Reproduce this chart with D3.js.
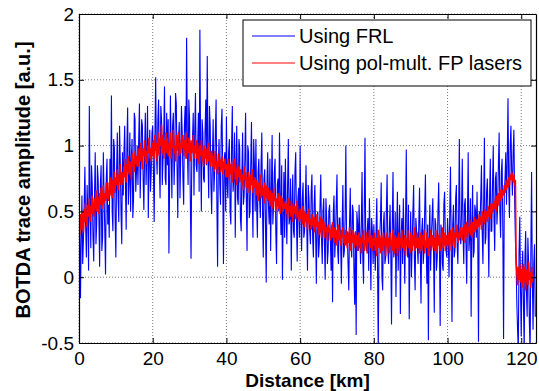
<!DOCTYPE html>
<html>
<head>
<meta charset="utf-8">
<script src="https://cdn.jsdelivr.net/npm/d3@7"></script>
<style>
  body { margin: 0; background: #fff; }
  text { font-family: "Liberation Sans", Arial, Helvetica, sans-serif; }
</style>
</head>
<body>
<svg id="chart" width="539" height="391"></svg>
<script>
// samples every 0.2 km, starting at 0 km
const step = 0.2;

// BOTDA trace using the FRL (blue)
const frl = [
  0.05, 0.35, -0.16, 0.3, 0.62, 0.1, 0.28, 0.55, 0.84, 0.4, 0.15, 0.7, 0.48, 0.05, 1.3, 0.6, 0.22, 0.85, 0.7, 0.3,
  0.12, 0.6, 0.95, 0.25, 0.4, 0.85, 0.74, 0.45, 0.08, 0.7, 0.85, 0.2, 0.3, 0.95, 0.62, 0.35, 0.02, 0.75, 0.9, 0.4,
  0.55, 0.3, 0.9, 0.65, 1.38, 0.5, 0.35, 1.05, 0.98, 0.45, 0.15, 0.8, 1.1, 0.6, 0.42, 1.15, 0.88, 0.5, 0.25, 0.95,
  0.62, 0.95, 1.15, 0.7, 0.36, 1.0, 1.29, 0.55, 0.72, 1.1, 0.5, 0.9, 1.05, 0.45, 0.6, 1.25, 1.2, 0.65, 0.8, 1.0,
  0.7, 1.05, 1.32, 0.6, 0.88, 1.2, 1.15, 0.75, 0.51, 0.95, 1.25, 0.7, 0.95, 1.3, 0.45, 0.85, 1.12, 0.65, 0.8, 1.1,
  1.15, 0.8, 0.42, 1.05, 1.52, 0.95, 0.78, 1.2, 1.35, 0.85, 0.6, 1.3, 1.2, 0.7, 0.9, 1.1, 1.45, 0.75, 0.7, 1.25,
  0.85, 1.2, 0.18, 0.75, 1.38, 1.0, 0.6, 1.15, 1.25, 0.7, 0.95, 1.4, 1.32, 0.85, 0.45, 1.05, 1.18, 0.6, 0.92, 1.3,
  1.1, 0.75, 0.55, 1.15, 1.3, 0.9, 1.82, 1.0, 0.7, 1.35, 1.2, 0.6, 0.14, 0.9, 1.05, 1.25, 0.62, 1.1, 1.4, 0.85,
  0.8, 1.0, 1.25, 0.65, 1.88, 0.95, 0.5, 1.2, 1.1, 0.75, 0.72, 1.1, 1.35, 0.85, 1.68, 0.9, 0.6, 1.3, 1.15, 0.7,
  0.48, 0.9, 1.2, 0.65, 0.8, 1.1, 1.35, 0.6, 0.08, 0.85, 1.05, 0.7, 0.55, 1.15, 1.28, 0.75, 0.1, 0.9, 0.95, 0.5,
  1.22, 0.7, 0.6, 0.95, 1.05, 0.5, 0.4, 1.0, 1.3, 0.65, 0.75, 1.1, 0.3, 0.85, 1.15, 0.6, 0.55, 1.05, 0.98, 0.45,
  0.35, 0.8, 1.1, 0.55, 0.62, 0.9, 1.25, 0.6, 0.2, 1.0, 0.95, 0.45, 0.5, 0.85, 1.18, 0.65, 0.3, 1.05, 0.85, 0.5,
  1.05, 0.55, 0.3, 0.8, 0.9, 0.6, 0.45, 0.85, 1.1, 0.5, 0.15, 0.75, 0.82, 0.4, -0.04, 0.7, 0.95, 0.55, 0.4, 0.9,
  0.2, 0.65, 1.08, 0.4, 0.55, 0.8, 0.9, 0.35, 0.1, 0.7, 0.75, 0.5, 1.1, 0.6, 0.32, 0.85, -0.02, 0.45, 0.8, 0.3,
  0.9, 0.5, 0.25, 0.7, 1.05, 0.4, 0.45, 0.75, 0.05, 0.55, 0.78, 0.35, 0.3, 0.8, 0.95, 0.45, 0.12, 0.6, 0.68, 0.3,
  1.0, 0.45, 0.2, 0.6, 0.72, 0.3, 0.35, 0.55, 0.85, 0.4, 0.05, 0.7, 0.6, 0.35, 0.25, 0.65, 0.78, 0.3, 0.15, 0.55,
  0.7, 0.35, -0.05, 0.45, 0.5, 0.15, 0.25, 0.55, 0.78, 0.3, 0.1, 0.5, 0.6, 0.25, -0.02, 0.6, 0.45, 0.1, 0.2, 0.5,
  0.55, 0.3, 0.05, 0.4, -0.19, 0.5, 0.62, 0.15, 0.3, 0.55, 0.78, 0.2, 0.1, 0.45, 0.45, 0.25, -0.05, 0.4, 0.7, 0.15,
  0.2, 0.45, 1.0, 0.3, 0.35, 0.1, -0.1, 0.4, 0.68, 0.25, 0.15, 0.55, 0.5, 0.05, -0.21, 0.35, -0.44, 0.5, 0.4, 0.2,
  0.55, 0.3, 0.1, 0.4, 0.8, 0.15, -0.05, 0.5, 1.06, 0.25, 0.2, 0.35, 0.45, 0.05, 0.6, 0.3, -0.1, 0.45, 0.35, 0.1,
  0.4, 0.2, 0.05, 0.35, 0.6, 0.1, -0.56, 0.25, 0.3, 0.45, 0.72, 0.0, -0.1, 0.4, 0.5, 0.1, 0.15, 0.5, 0.78, 0.2,
  0.1, 0.35, 0.55, 0.2, -0.36, 0.4, 0.8, 0.15, 0.2, 0.5, -0.15, 0.35, 0.65, 0.05, 0.3, 0.55, -0.28, 0.3, 0.45, 0.1,
  0.6, 0.25, -0.05, 0.4, 0.97, 0.3, 0.15, 0.55, -0.32, 0.2, 0.5, 0.0, 0.25, 0.5, 0.7, 0.15, -0.1, 0.45, 0.35, 0.25,
  0.1, 0.4, 0.68, 0.2, -0.2, 0.35, 0.45, 0.1, 0.2, 0.5, 0.78, 0.25, -0.05, 0.4, -0.48, 0.3, 0.55, 0.05, 0.3, 0.45,
  0.6, 0.2, -0.27, 0.45, 0.4, 0.05, 0.15, 0.5, 0.72, 0.25, -0.37, 0.4, 0.35, 0.1, 0.05, 0.55, 0.65, 0.3, 0.2, 0.15,
  0.45, 0.3, 0.0, 0.5, 0.84, 0.2, -0.34, 0.4, 0.55, 0.15, 0.2, 0.6, 0.7, 0.25, 0.1, 0.45, 1.05, 0.35, 0.25, 0.5,
  0.9, 0.35, 0.1, 0.55, 0.6, 0.25, -0.05, 0.45, 0.95, 0.2, 0.3, 0.6, -0.3, 0.4, 0.7, 0.15, 0.2, 0.55, 0.5, 0.3,
  0.65, 0.3, -0.49, 0.5, 0.4, 0.6, 0.85, 0.35, 0.1, 0.55, 1.06, 0.25, 0.3, 0.65, 0.75, 0.4, 0.0, 0.6, 0.9, 0.35,
  0.35, 0.7, 1.0, 0.45, 0.2, 0.75, 0.8, 0.4, 0.55, 0.85, 1.1, 0.5, 0.3, 0.8, 0.9, 0.35, -0.47, 0.65, 0.75, 0.95,
  0.55, 0.9, 1.36, 0.7, 0.45, 1.0, 1.15, 0.8, 0.62, 0.95, 1.12, 0.6, 0.3, 0.1, -0.2, -0.4, -0.56, 0.2, 0.46, -0.1,
  -0.45, 0.05, 0.2, -0.2, -0.56, 0.15, 0.35, -0.1, -0.3, 0.3, 0.1, -0.35, -0.56, 0.2, 0.8, 0.0, -0.4, 0.1, 0.25, -0.3
];

// BOTDA trace using the pol-mult. FP lasers (red)
const fp = [
  0.44, 0.32, 0.48, 0.36, 0.5, 0.4, 0.34, 0.52, 0.42, 0.56, 0.44, 0.38, 0.55, 0.46, 0.6, 0.42, 0.54, 0.48, 0.62, 0.5,
  0.46, 0.6, 0.52, 0.66, 0.5, 0.62, 0.56, 0.48, 0.64, 0.55, 0.68, 0.52, 0.6, 0.7, 0.56, 0.64, 0.58, 0.72, 0.6, 0.66,
  0.58, 0.72, 0.62, 0.76, 0.66, 0.6, 0.74, 0.68, 0.8, 0.64, 0.76, 0.7, 0.82, 0.66, 0.78, 0.72, 0.86, 0.7, 0.8, 0.76,
  0.7, 0.84, 0.76, 0.9, 0.72, 0.86, 0.8, 0.92, 0.78, 0.88, 0.82, 0.74, 0.94, 0.84, 0.9, 0.8, 0.96, 0.86, 0.92, 0.84,
  0.98, 0.84, 0.94, 0.88, 1.02, 0.9, 0.82, 0.98, 0.92, 1.04, 0.88, 0.96, 0.86, 1.0, 0.94, 1.06, 0.9, 0.98, 0.88, 1.02,
  0.92, 1.04, 0.9, 1.08, 0.96, 1.02, 0.88, 1.1, 0.98, 0.92, 1.06, 1.0, 1.16, 0.94, 1.08, 0.9, 1.04, 0.96, 1.1, 0.94,
  1.06, 0.92, 1.02, 0.96, 1.1, 0.9, 1.04, 0.98, 1.12, 0.94, 1.0, 0.88, 1.08, 0.96, 1.04, 1.1, 0.92, 1.02, 0.94, 1.06,
  0.98, 1.08, 0.92, 1.04, 0.96, 1.1, 0.9, 1.02, 0.94, 1.06, 1.0, 0.88, 1.04, 0.94, 0.98, 1.08, 0.9, 1.0, 0.94, 1.04,
  0.9, 1.02, 0.94, 0.86, 1.0, 0.92, 1.04, 0.88, 0.96, 0.84, 1.0, 0.9, 0.98, 0.86, 0.94, 1.02, 0.88, 0.96, 0.84, 0.92,
  0.96, 0.84, 0.92, 0.8, 0.9, 0.96, 0.82, 0.88, 0.78, 0.94, 0.84, 0.9, 0.8, 0.86, 0.92, 0.78, 0.88, 0.82, 0.9, 0.76,
  0.86, 0.76, 0.9, 0.8, 0.74, 0.86, 0.78, 0.88, 0.72, 0.84, 0.8, 0.9, 0.74, 0.82, 0.7, 0.86, 0.76, 0.84, 0.72, 0.8,
  0.82, 0.7, 0.78, 0.66, 0.84, 0.74, 0.8, 0.68, 0.76, 0.64, 0.8, 0.72, 0.66, 0.78, 0.7, 0.82, 0.64, 0.74, 0.68, 0.76,
  0.62, 0.74, 0.66, 0.58, 0.72, 0.64, 0.78, 0.6, 0.7, 0.62, 0.68, 0.56, 0.72, 0.64, 0.6, 0.7, 0.58, 0.68, 0.62, 0.54,
  0.66, 0.56, 0.64, 0.52, 0.68, 0.58, 0.62, 0.5, 0.6, 0.54, 0.64, 0.52, 0.58, 0.48, 0.62, 0.54, 0.6, 0.5, 0.56, 0.52,
  0.58, 0.48, 0.56, 0.44, 0.6, 0.5, 0.54, 0.46, 0.58, 0.5, 0.42, 0.56, 0.48, 0.54, 0.44, 0.52, 0.58, 0.46, 0.5, 0.42,
  0.52, 0.44, 0.5, 0.4, 0.54, 0.46, 0.38, 0.5, 0.42, 0.48, 0.36, 0.46, 0.52, 0.4, 0.44, 0.36, 0.48, 0.42, 0.38, 0.46,
  0.34, 0.44, 0.38, 0.48, 0.36, 0.42, 0.32, 0.46, 0.38, 0.3, 0.44, 0.36, 0.4, 0.3, 0.42, 0.34, 0.38, 0.28, 0.4, 0.34,
  0.38, 0.28, 0.36, 0.3, 0.42, 0.32, 0.26, 0.38, 0.3, 0.36, 0.24, 0.34, 0.4, 0.28, 0.32, 0.24, 0.36, 0.3, 0.38, 0.26,
  0.32, 0.24, 0.36, 0.28, 0.22, 0.34, 0.26, 0.38, 0.3, 0.2, 0.32, 0.26, 0.36, 0.22, 0.3, 0.34, 0.24, 0.32, 0.2, 0.3,
  0.34, 0.22, 0.3, 0.18, 0.32, 0.26, 0.36, 0.2, 0.28, 0.24, 0.34, 0.18, 0.3, 0.26, 0.36, 0.22, 0.28, 0.32, 0.2, 0.3,
  0.24, 0.34, 0.2, 0.3, 0.16, 0.28, 0.36, 0.22, 0.3, 0.18, 0.32, 0.26, 0.2, 0.34, 0.24, 0.3, 0.16, 0.28, 0.34, 0.22,
  0.3, 0.18, 0.34, 0.24, 0.28, 0.2, 0.36, 0.26, 0.18, 0.32, 0.22, 0.3, 0.16, 0.28, 0.34, 0.2, 0.3, 0.24, 0.36, 0.22,
  0.28, 0.2, 0.32, 0.16, 0.3, 0.24, 0.36, 0.22, 0.28, 0.18, 0.34, 0.26, 0.2, 0.32, 0.24, 0.38, 0.2, 0.3, 0.22, 0.34,
  0.22, 0.3, 0.18, 0.34, 0.26, 0.2, 0.32, 0.24, 0.36, 0.18, 0.28, 0.22, 0.34, 0.26, 0.16, 0.3, 0.24, 0.36, 0.2, 0.28,
  0.32, 0.22, 0.3, 0.2, 0.36, 0.26, 0.18, 0.32, 0.24, 0.34, 0.2, 0.3, 0.26, 0.38, 0.22, 0.28, 0.34, 0.2, 0.32, 0.26,
  0.24, 0.34, 0.28, 0.2, 0.36, 0.3, 0.24, 0.38, 0.28, 0.34, 0.22, 0.36, 0.3, 0.4, 0.26, 0.34, 0.28, 0.38, 0.3, 0.36,
  0.28, 0.38, 0.32, 0.4, 0.26, 0.36, 0.42, 0.3, 0.38, 0.34, 0.44, 0.32, 0.4, 0.3, 0.42, 0.36, 0.46, 0.34, 0.4, 0.44,
  0.36, 0.44, 0.38, 0.48, 0.4, 0.46, 0.36, 0.5, 0.42, 0.48, 0.4, 0.52, 0.44, 0.5, 0.42, 0.54, 0.46, 0.52, 0.44, 0.56,
  0.48, 0.56, 0.5, 0.58, 0.52, 0.6, 0.5, 0.62, 0.56, 0.64, 0.54, 0.66, 0.58, 0.68, 0.6, 0.66, 0.62, 0.7, 0.64, 0.72,
  0.66, 0.74, 0.68, 0.76, 0.7, 0.78, 0.74, 0.8, 0.76, 0.72, 0.78, 0.7, 0.74, 0.12, 0.04, -0.06, 0.08, -0.02, 0.1, -0.04,
  0.06, -0.08, 0.04, 0.1, -0.04, 0.08, -0.1, 0.02, 0.06, -0.06, 0.12, -0.02, 0.04, -0.08, 0.08, -0.04, 0.02
];

const xTicks = [0, 20, 40, 60, 80, 100, 120];
const yTicks = [-0.5, 0, 0.5, 1, 1.5, 2];
const legendLabels = ["Using FRL", "Using pol-mult. FP lasers"];
const colors = ["#0000ff", "#ff0000"];

const margin = { top: 14, right: 3, bottom: 48, left: 79 },
  width = 539 - margin.left - margin.right,
  height = 391 - margin.top - margin.bottom;

const svg = d3
  .select("#chart")
  .append("g")
  .attr("transform", `translate(${margin.left},${margin.top})`);

const x = d3.scaleLinear().domain([0, 124]).range([0, width]);
const y = d3.scaleLinear().domain([-0.5, 2]).range([height, 0]);

svg
  .append("defs")
  .append("clipPath")
  .attr("id", "plot-clip")
  .append("rect")
  .attr("width", width)
  .attr("height", height);

// dotted grid
svg
  .append("g")
  .selectAll("line")
  .data(xTicks)
  .enter()
  .append("line")
  .attr("x1", (d) => x(d))
  .attr("x2", (d) => x(d))
  .attr("y1", 0)
  .attr("y2", height)
  .attr("stroke", "#7a7a7a")
  .attr("stroke-dasharray", "1,2");

svg
  .append("g")
  .selectAll("line")
  .data(yTicks)
  .enter()
  .append("line")
  .attr("x1", 0)
  .attr("x2", width)
  .attr("y1", (d) => y(d))
  .attr("y2", (d) => y(d))
  .attr("stroke", "#7a7a7a")
  .attr("stroke-dasharray", "1,2");

const line = d3
  .line()
  .x((d, i) => x(i * step))
  .y((d) => y(d));

const traces = svg.append("g").attr("clip-path", "url(#plot-clip)");

traces
  .append("path")
  .datum(frl)
  .attr("d", line)
  .attr("fill", "none")
  .attr("stroke", colors[0])
  .attr("stroke-width", 1.1);

traces
  .append("path")
  .datum(fp)
  .attr("d", line)
  .attr("fill", "none")
  .attr("stroke", colors[1])
  .attr("stroke-width", 1.6);

// axes, ticks pointing inwards on all four sides
const styleAxis = (g) => {
  g.attr("font-family", null);
  g.select(".domain").attr("stroke", "#000").attr("stroke-width", 1.2);
  g.selectAll(".tick line").attr("stroke", "#000");
  g.selectAll(".tick text").attr("fill", "#000").style("font-size", "19px");
};

svg
  .append("g")
  .attr("transform", `translate(0,${height})`)
  .call(
    d3.axisBottom(x).tickValues(xTicks).tickSizeInner(-5).tickSizeOuter(0).tickPadding(9)
  )
  .call(styleAxis);

svg
  .append("g")
  .call(
    d3.axisTop(x).tickValues(xTicks).tickSizeInner(-5).tickSizeOuter(0).tickFormat("")
  )
  .call(styleAxis);

svg
  .append("g")
  .call(
    d3
      .axisLeft(y)
      .tickValues(yTicks)
      .tickSizeInner(-5)
      .tickSizeOuter(0)
      .tickPadding(5)
      .tickFormat((d) => String(d))
  )
  .call(styleAxis);

svg
  .append("g")
  .attr("transform", `translate(${width},0)`)
  .call(
    d3.axisRight(y).tickValues(yTicks).tickSizeInner(-5).tickSizeOuter(0).tickFormat("")
  )
  .call(styleAxis);

// labels
svg
  .append("text")
  .attr("x", width / 2)
  .attr("y", 387 - margin.top)
  .attr("text-anchor", "middle")
  .style("font-size", "19px")
  .style("font-weight", "bold")
  .text("Distance [km]");

svg
  .append("text")
  .attr("transform", `translate(${30 - margin.left},${180 - margin.top}) rotate(-90)`)
  .attr("text-anchor", "middle")
  .style("font-size", "20px")
  .style("font-weight", "bold")
  .text("BOTDA trace amplitude [a.u.]");

// legend
const legend = svg
  .append("g")
  .attr("transform", `translate(${243 - margin.left},${20 - margin.top})`);

legend
  .append("rect")
  .attr("width", 288)
  .attr("height", 66)
  .attr("fill", "#fff")
  .attr("stroke", "#000")
  .attr("stroke-width", 1);

const rows = legend
  .selectAll(".row")
  .data(legendLabels)
  .enter()
  .append("g")
  .attr("class", "row")
  .attr("transform", (d, i) => `translate(0,${16 + i * 27})`);

rows
  .append("line")
  .attr("x1", 9)
  .attr("x2", 52)
  .attr("stroke", (d, i) => colors[i])
  .attr("stroke-width", 1);

rows
  .append("text")
  .attr("x", 56)
  .attr("y", 7)
  .style("font-size", "20px")
  .text((d) => d);
</script>
</body>
</html>
